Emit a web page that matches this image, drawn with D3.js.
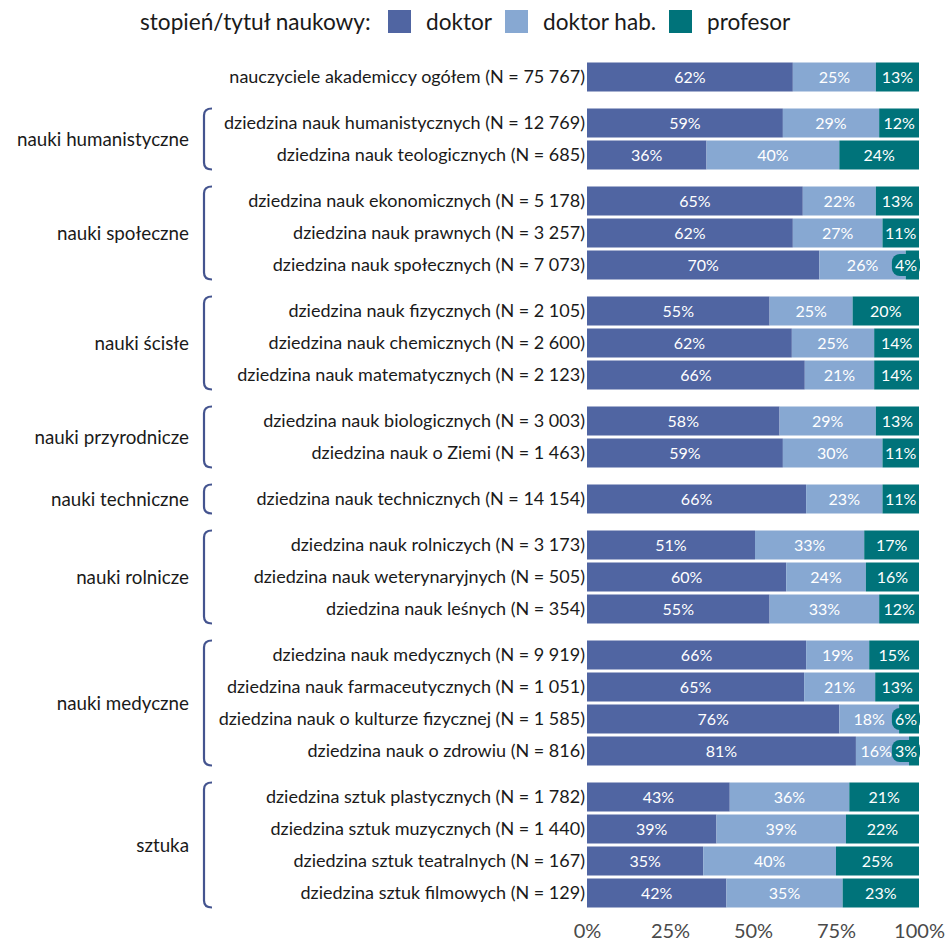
<!DOCTYPE html>
<html>
<head>
<meta charset="utf-8">
<script src="https://cdn.jsdelivr.net/npm/d3@7"></script>
<style>
  body { margin: 0; background: #fff; }
  svg text { font-family: Lato, "Noto Sans", sans-serif; }
</style>
</head>
<body>
<svg id="chart"></svg>
<script>
const width = 946;
const height = 943;

// categories (rows), top to bottom
const rowLabels = [
    "nauczyciele akademiccy ogółem (N = 75 767)",
    "dziedzina nauk humanistycznych (N = 12 769)",
    "dziedzina nauk teologicznych (N = 685)",
    "dziedzina nauk ekonomicznych (N = 5 178)",
    "dziedzina nauk prawnych (N = 3 257)",
    "dziedzina nauk społecznych (N = 7 073)",
    "dziedzina nauk fizycznych (N = 2 105)",
    "dziedzina nauk chemicznych (N = 2 600)",
    "dziedzina nauk matematycznych (N = 2 123)",
    "dziedzina nauk biologicznych (N = 3 003)",
    "dziedzina nauk o Ziemi (N = 1 463)",
    "dziedzina nauk technicznych (N = 14 154)",
    "dziedzina nauk rolniczych (N = 3 173)",
    "dziedzina nauk weterynaryjnych (N = 505)",
    "dziedzina nauk leśnych (N = 354)",
    "dziedzina nauk medycznych (N = 9 919)",
    "dziedzina nauk farmaceutycznych (N = 1 051)",
    "dziedzina nauk o kulturze fizycznej (N = 1 585)",
    "dziedzina nauk o zdrowiu (N = 816)",
    "dziedzina sztuk plastycznych (N = 1 782)",
    "dziedzina sztuk muzycznych (N = 1 440)",
    "dziedzina sztuk teatralnych (N = 167)",
    "dziedzina sztuk filmowych (N = 129)"
];

// group index of each row (0 = total, no bracket)
const rowGroup = [0, 1, 1, 2, 2, 2, 3, 3, 3, 4, 4, 5, 6, 6, 6, 7, 7, 7, 7, 8, 8, 8, 8];
const groupLabels = ["", "nauki humanistyczne", "nauki społeczne", "nauki ścisłe",
    "nauki przyrodnicze", "nauki techniczne", "nauki rolnicze", "nauki medyczne", "sztuka"];

// series values (%)
const doktor    = [62, 59, 36, 65, 62, 70, 55, 61.7, 65.6, 58, 59, 66, 50.6, 60, 55, 66, 65.4, 76, 81, 43, 39, 35, 42];
const doktorHab = [25, 29, 40, 22, 27, 26, 25, 24.8, 20.9, 29, 30, 23, 32.9, 24, 33, 19, 21.4, 18, 16, 36, 39, 40, 35];
const profesor  = [13, 12, 24, 13, 11, 4, 20, 13.5, 13.5, 13, 11, 11, 16.5, 16, 12, 15, 13.2, 6, 3, 21, 22, 25, 23];

const seriesNames = ["doktor", "doktor hab.", "profesor"];
const seriesColors = ["#5065a2", "#87a8d2", "#00737a"];
const xTicks = [0, 25, 50, 75, 100];

const rows = rowLabels.map((label, i) => ({
    label,
    i,
    g: rowGroup[i],
    doktor: doktor[i],
    hab: doktorHab[i],
    prof: profesor[i]
}));

const svg = d3.select("#chart")
    .attr("width", width)
    .attr("height", height);

const x = d3.scaleLinear().domain([0, 100]).range([587, 919]);

// slot = row index + extra spacing per group
const gapFrac = 14 / 32;
const slot = d => d.i + d.g * gapFrac;
const maxSlot = slot(rows[rows.length - 1]);
const y = d3.scaleLinear().domain([0, maxSlot]).range([77, 77 + maxSlot * 32]);
const barH = 29;

const stack = d3.stack()
    .keys(["doktor", "hab", "prof"])
    .offset(d3.stackOffsetExpand);
const stacked = stack(rows);

// bars
const layers = svg.append("g")
    .selectAll("g")
    .data(stacked)
    .join("g")
    .attr("fill", (d, k) => seriesColors[k]);

layers.selectAll("rect")
    .data(d => d)
    .join("rect")
    .attr("x", d => x(d[0] * 100))
    .attr("y", d => y(slot(d.data)) - barH / 2)
    .attr("width", d => x(d[1] * 100) - x(d[0] * 100))
    .attr("height", barH);

// segment labels
const labelG = svg.append("g");
const placed = rows.map(() => []); // per row: {node, left, right}
stacked.forEach((layer, k) => {
    layer.forEach((d, r) => {
        const key = layer.key;
        const txt = Math.round(d.data[key]) + "%";
        const x0 = x(d[0] * 100), x1 = x(d[1] * 100);
        const cy = y(slot(d.data));
        const t = labelG.append("text")
            .attr("y", cy)
            .attr("dy", "0.36em")
            .attr("fill", "#fff")
            .attr("font-size", 16)
            .text(txt);
        const w = t.node().getComputedTextLength();
        if (x1 - x0 < w + 3) {
            // narrow segment: label with rounded background at bar end
            t.attr("text-anchor", "end").attr("x", x1 - 2);
            labelG.insert("rect", () => t.node())
                .attr("x", x1 - w - 5)
                .attr("y", cy - 11)
                .attr("width", w + 6)
                .attr("height", 22)
                .attr("rx", 8)
                .attr("fill", seriesColors[k]);
            const prev = placed[r][k - 1];
            if (prev && prev.right > x1 - w - 5) {
                const shift = prev.right - (x1 - w - 5);
                prev.node.attr("x", +prev.node.attr("x") - shift);
            }
            placed[r].push({ node: t, left: x1 - w - 5, right: x1 });
        } else {
            const cx = (x0 + x1) / 2;
            t.attr("text-anchor", "middle").attr("x", cx);
            placed[r].push({ node: t, left: cx - w / 2, right: cx + w / 2 });
        }
    });
});

// row labels
svg.append("g")
    .selectAll("text")
    .data(rows)
    .join("text")
    .attr("x", 585)
    .attr("y", d => y(slot(d)))
    .attr("dy", "0.36em")
    .attr("text-anchor", "end")
    .attr("font-size", 18)
    .attr("fill", "#1a1a1a")
    .text(d => d.label);

// group labels and brackets
const groups = d3.groups(rows.filter(d => d.g > 0), d => d.g);
const groupG = svg.append("g");
groups.forEach(([g, items]) => {
    const top = y(slot(items[0])) - barH / 2;
    const bottom = y(slot(items[items.length - 1])) + barH / 2;
    const mid = (top + bottom) / 2;
    groupG.append("text")
        .attr("x", 189)
        .attr("y", mid)
        .attr("dy", "0.36em")
        .attr("text-anchor", "end")
        .attr("font-size", 18.8)
        .attr("fill", "#1a1a1a")
        .text(groupLabels[g]);
    const p = d3.path();
    p.moveTo(212, top);
    p.quadraticCurveTo(204, top, 204, top + 7);
    p.lineTo(204, bottom - 7);
    p.quadraticCurveTo(204, bottom, 212, bottom);
    groupG.append("path")
        .attr("d", p.toString())
        .attr("fill", "none")
        .attr("stroke", "#44548f")
        .attr("stroke-width", 2.2);
});

// x axis (labels only)
const axis = d3.axisBottom(x)
    .tickValues(xTicks)
    .tickFormat(d => d + "%")
    .tickSize(0)
    .tickPadding(0);
const axisG = svg.append("g")
    .attr("transform", "translate(0,924)")
    .call(axis);
axisG.select(".domain").remove();
axisG.selectAll("text")
    .attr("font-size", 20)
    .attr("fill", "#4a4a4a")
    .attr("font-family", "Lato, sans-serif");

// legend
const legend = svg.append("g").attr("font-size", 22.6).attr("fill", "#1a1a1a");
legend.append("text")
    .attr("x", 140)
    .attr("y", 22)
    .attr("dy", "0.36em")
    .text("stopień/tytuł naukowy:");
const legendX = [388, 505, 669];
seriesNames.forEach((name, k) => {
    legend.append("rect")
        .attr("x", legendX[k])
        .attr("y", 10)
        .attr("width", 23)
        .attr("height", 23)
        .attr("fill", seriesColors[k]);
    legend.append("text")
        .attr("x", legendX[k] + 38)
        .attr("y", 22)
        .attr("dy", "0.36em")
        .text(name);
});
</script>
</body>
</html>
